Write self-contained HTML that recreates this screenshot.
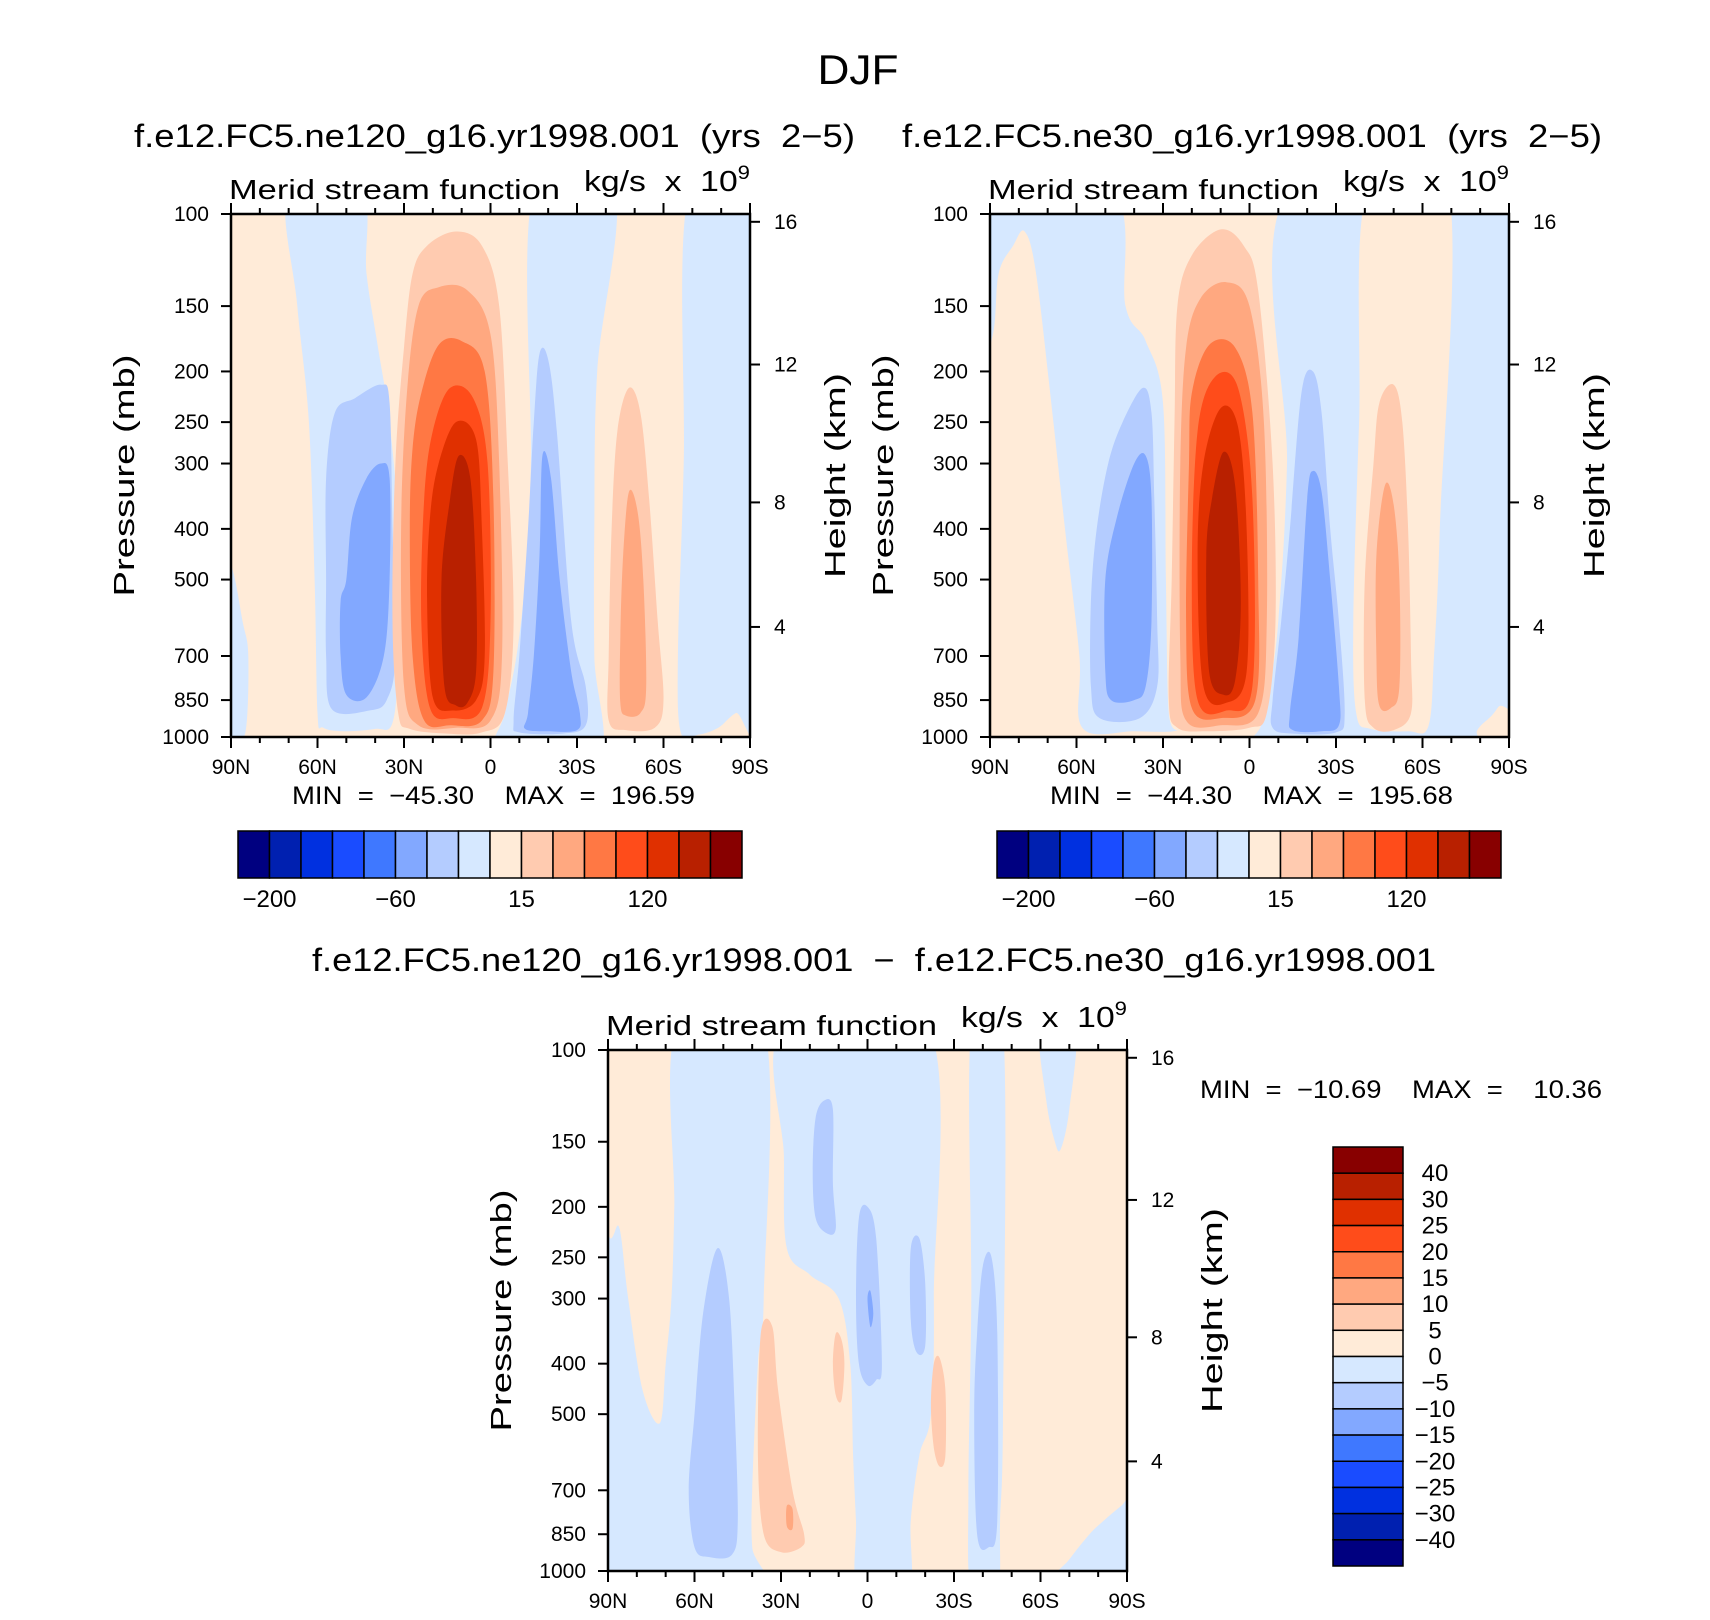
<!DOCTYPE html>
<html><head><meta charset="utf-8">
<style>
html,body{margin:0;padding:0;background:#fff;}
svg{display:block;font-family:"Liberation Sans",sans-serif;}
text{white-space:pre;}
</style></head>
<body>
<svg id="fig" width="1710" height="1620" viewBox="0 0 1710 1620" xmlns="http://www.w3.org/2000/svg">
<rect x="0" y="0" width="1710" height="1620" fill="#fff"/>
<text x="858" y="84" font-size="42" text-anchor="middle" fill="#000" textLength="81" lengthAdjust="spacingAndGlyphs">DJF</text>
</svg>
<script>
// ---------- data ----------
const palette = ['#000080','#0020b0','#0030e0','#1a4cff','#3f78ff','#82a8ff','#b4ccff','#d6e8ff','#ffebd8','#ffcbb0','#ffa880','#ff7844','#ff4c1a','#e03000','#b82000','#880000'];
const pressureTicks = [100,150,200,250,300,400,500,700,850,1000];
const heightTicks = [4,8,12,16];
const heightTickPressure = [616,356,194,103.5];
const latTicks = [90,60,30,0,-30,-60,-90];
const latTickLabels = ['90N','60N','30N','0','30S','60S','90S'];
const latMinorTicks = [80,70,50,40,20,10,-10,-20,-40,-50,-70,-80];
const cbarLabelsTop = ['-200','-60','15','120'];
const cbarLabelIdxTop = [1,5,9,13];
const cbarLabelsDiff = ['40','30','25','20','15','10','5','0','-5','-10','-15','-20','-25','-30','-40'];

// panel 1 (ne120) contour regions: level index + polygon of [lat, pressure]
const p1Levels = [7,7,7,7,6,5,6,5,9,10,11,12,13,14,9,10];
const p1Shapes = [
 [[90,470],[86,600],[84,700],[85,980],[90,1000],[95,1000],[95,470]],
 [[70,90],[67,150],[63,250],[61,500],[60,900],[58,960],[50,975],[40,965],[34,940],[32,700],[32,400],[35,250],[39,180],[43,130],[45,90]],
 [[-15,90],[-14,300],[-12,500],[-9,700],[-5,900],[-2,1100],[-37,1100],[-36,700],[-36,400],[-37,200],[-43,90]],
 [[-69,90],[-67,300],[-65,700],[-66,980],[-72,990],[-79,960],[-85,900],[-95,850],[-95,90]],
 [[57,320],[54,240],[47,225],[38,212],[35,230],[34,400],[33,700],[36,850],[42,890],[55,885],[57,700],[57,500]],
 [[50,500],[48,380],[43,320],[38,300],[35,320],[35,500],[37,700],[43,840],[50,830],[52,700],[52,550]],
 [[-17,185],[-20,190],[-23,260],[-28,600],[-33,800],[-33,950],[-25,985],[-10,980],[-8,930],[-10,700],[-13,400],[-15,250]],
 [[-18,290],[-21,320],[-24,500],[-28,750],[-31,900],[-30,970],[-20,975],[-12,965],[-13,900],[-15,700],[-17,450]],
 [[27,130],[22,115],[12,108],[3,115],[-3,150],[-6,300],[-8,600],[-5,900],[3,980],[15,985],[28,965],[32,900],[34,600],[33,300],[30,180]],
 [[25,150],[18,138],[8,140],[0,170],[-3,300],[-4,700],[0,930],[12,960],[25,950],[30,800],[31,400],[29,220]],
 [[24,220],[18,178],[10,175],[2,200],[-1,350],[-1,750],[3,930],[14,950],[23,930],[27,700],[28,400],[27,280]],
 [[20,260],[14,215],[6,225],[1,300],[0,600],[3,880],[13,920],[21,880],[24,600],[23,350]],
 [[18,300],[12,250],[5,270],[3,400],[2,700],[5,850],[13,890],[20,840],[22,550],[21,380]],
 [[14,350],[11,290],[7,320],[5,500],[5,750],[8,860],[12,870],[16,800],[17,500]],
 [[-42,400],[-44,260],[-48,215],[-52,240],[-55,350],[-58,600],[-60,850],[-57,960],[-47,970],[-41,930],[-41,700]],
 [[-46,450],[-48,340],[-51,370],[-53,500],[-54,800],[-52,900],[-47,910],[-45,860],[-45,650]]
];

// panel 2 (ne30)
const p2Levels = [7,7,8,6,5,6,5,9,10,11,12,13,14,9,10];
const p2Shapes = [
 [[95,90],[48,90],[43,150],[36,175],[30,230],[29,500],[28,900],[25,970],[40,975],[58,960],[59,700],[64,400],[68,250],[74,130],[78,108],[82,115],[87,130],[89,170],[95,200]],
 [[-14,90],[-13,300],[-10,600],[-7,800],[-4,950],[-3,1100],[-75,1100],[-79,970],[-86,880],[-95,700],[-95,90]],
 [[-41,90],[-38,250],[-36,600],[-37,900],[-42,965],[-55,975],[-62,955],[-64,700],[-66,400],[-69,90]],
 [[53,400],[49,300],[44,250],[37,215],[34,240],[33,350],[32,600],[32,800],[38,920],[52,920],[55,800],[55,550]],
 [[50,500],[46,380],[40,300],[36,290],[34,350],[34,600],[36,800],[40,850],[48,850],[50,750]],
 [[-18,220],[-22,200],[-25,240],[-28,400],[-31,600],[-33,900],[-30,980],[-15,985],[-8,960],[-8,850],[-11,600],[-14,400]],
 [[-20,350],[-22,310],[-25,340],[-28,500],[-31,800],[-31,950],[-25,975],[-15,970],[-14,900],[-17,650]],
 [[25,150],[20,120],[10,107],[2,115],[-3,140],[-8,300],[-9,600],[-6,900],[0,960],[15,975],[25,960],[28,850],[27,500],[26,250]],
 [[22,180],[17,145],[8,135],[0,150],[-5,250],[-6,600],[-3,900],[10,950],[22,930],[24,700],[24,300]],
 [[20,220],[14,178],[5,180],[-1,240],[-3,500],[-2,850],[10,920],[20,880],[22,600],[21,300]],
 [[18,260],[12,205],[4,215],[-1,350],[-1,800],[8,890],[18,850],[20,500]],
 [[16,300],[10,235],[4,255],[1,400],[1,750],[8,860],[16,800],[18,450]],
 [[13,350],[9,285],[5,330],[3,550],[5,780],[9,830],[14,750],[15,450]],
 [[-43,300],[-45,230],[-50,212],[-53,250],[-55,400],[-56,700],[-56,900],[-50,970],[-43,960],[-40,850],[-40,500]],
 [[-44,450],[-47,330],[-50,360],[-52,500],[-52,800],[-49,880],[-45,870],[-44,700]]
];

// panel 3 (difference)
const p3Levels = [7,7,7,7,7,6,6,6,5,6,6,9,9,9,10];
const p3Shapes = [
 [[66,90],[36,90],[36,300],[38,400],[40,700],[40,900],[38,1100],[95,1100],[95,230],[89,230],[86,220],[83,300],[78,450],[72,520],[70,400],[68,300],[67,200]],
 [[29,90],[-21,90],[-23,300],[-22,500],[-18,600],[-15,800],[-14,1100],[3,1100],[4,800],[5,600],[6,400],[10,300],[20,270],[28,240],[29,160]],
 [[-36,90],[-47,90],[-47,500],[-46,800],[-45,1100],[-36,1100],[-35,700],[-36,300]],
 [[-62,1100],[-70,950],[-77,850],[-82,800],[-88,750],[-95,700],[-95,1100]],
 [[-60,90],[-72,90],[-70,130],[-67,155],[-65,150],[-62,125]],
 [[52,240],[48,300],[46,500],[45,800],[47,930],[55,940],[60,900],[62,700],[60,500],[57,320]],
 [[18,135],[15,125],[12,130],[12,180],[11,220],[14,225],[18,210],[19,170]],
 [[3,210],[0,200],[-3,230],[-5,400],[-3,430],[0,440],[3,400],[4,300]],
 [[0,300],[-1,290],[-2,320],[-1,340]],
 [[-15,240],[-18,230],[-20,280],[-20,370],[-17,380],[-15,330]],
 [[-40,260],[-43,250],[-45,350],[-45,800],[-42,900],[-38,850],[-37,500],[-38,350]],
 [[37,350],[33,340],[31,450],[26,700],[22,850],[23,900],[30,920],[36,850],[38,600]],
 [[11,350],[9,360],[8,400],[9,470],[11,460],[12,400]],
 [[-23,400],[-25,390],[-27,450],[-27,600],[-25,630],[-23,580],[-22,480]],
 [[28,750],[26,760],[26,830],[28,820]]
];

// ---------- drawing ----------
const NS='http://www.w3.org/2000/svg';
const svg=document.getElementById('fig');
function mk(tag,attrs,parent){const e=document.createElementNS(NS,tag);for(const k in attrs)e.setAttribute(k,attrs[k]);(parent||svg).appendChild(e);return e;}
function txt(s,attrs,parent){const e=mk('text',attrs,parent);e.textContent=s;return e;}
function fit(e,len){e.setAttribute('textLength',len);e.setAttribute('lengthAdjust','spacingAndGlyphs');}

function makeAxes(P){
  P.xs=lat=>P.x0+(90-lat)/180*P.w;
  P.ys=p=>P.y0+P.h*(1-Math.log10(1000/p));
}
function smoothPath(pts){
  const n=pts.length;let d='M'+pts[0][0].toFixed(1)+','+pts[0][1].toFixed(1);
  for(let i=0;i<n;i++){
    const p0=pts[(i-1+n)%n],p1=pts[i],p2=pts[(i+1)%n],p3=pts[(i+2)%n];
    const c1=[p1[0]+(p2[0]-p0[0])/6,p1[1]+(p2[1]-p0[1])/6];
    const c2=[p2[0]-(p3[0]-p1[0])/6,p2[1]-(p3[1]-p1[1])/6];
    d+='C'+c1[0].toFixed(1)+','+c1[1].toFixed(1)+' '+c2[0].toFixed(1)+','+c2[1].toFixed(1)+' '+p2[0].toFixed(1)+','+p2[1].toFixed(1);
  }
  return d+'Z';
}
function panel(P,levels,shapes,id){
  makeAxes(P);
  const g=mk('g',{});
  
  
  const cp=mk('clipPath',{id:id+'clip'},g);
  mk('rect',{x:P.x0,y:P.y0,width:P.w,height:P.h},cp);
  const bg=mk('rect',{x:P.x0,y:P.y0,width:P.w,height:P.h,fill:palette[8]},g);
  
  
  const cg=mk('g',{'clip-path':'url(#'+id+'clip)'},g);
  shapes.forEach((s,i)=>{
    const pts=s.map(q=>[P.xs(q[0]),P.ys(q[1])]);
    const path=mk('path',{d:smoothPath(pts),fill:palette[levels[i]]},cg);
    
    
  });
  mk('rect',{x:P.x0,y:P.y0,width:P.w,height:P.h,fill:'none',stroke:'#000','stroke-width':2.5},g);
  pressureTicks.forEach(p=>{
    const y=P.ys(p);
    mk('line',{x1:P.x0-10,x2:P.x0,y1:y,y2:y,stroke:'#000','stroke-width':2},g);
    const t=txt(String(p),{x:P.x0-22,y:y+7,'font-size':21,'text-anchor':'end'},g);
    
    
  });
  heightTicks.forEach((h,i)=>{
    const y=P.ys(heightTickPressure[i]);
    mk('line',{x1:P.x0+P.w,x2:P.x0+P.w+10,y1:y,y2:y,stroke:'#000','stroke-width':2},g);
    const t=txt(String(h),{x:P.x0+P.w+24,y:y+7,'font-size':21},g);
    
    
  });
  latTicks.forEach((l,i)=>{
    const x=P.xs(l);
    mk('line',{x1:x,x2:x,y1:P.y0+P.h,y2:P.y0+P.h+11,stroke:'#000','stroke-width':2},g);
    mk('line',{x1:x,x2:x,y1:P.y0,y2:P.y0-11,stroke:'#000','stroke-width':2},g);
    const t=txt(latTickLabels[i],{x:x,y:P.y0+P.h+37,'font-size':21,'text-anchor':'middle'},g);
    
    
  });
  latMinorTicks.forEach(l=>{
    const x=P.xs(l);
    mk('line',{x1:x,x2:x,y1:P.y0+P.h,y2:P.y0+P.h+6,stroke:'#000','stroke-width':2},g);
    mk('line',{x1:x,x2:x,y1:P.y0,y2:P.y0-6,stroke:'#000','stroke-width':2},g);
  });
  const cy=P.y0+P.h/2;
  const yl=txt('Pressure (mb)',{x:0,y:0,'font-size':29,'text-anchor':'middle',transform:'translate('+(P.x0-97)+','+cy+') rotate(-90)'},g);
  fit(yl,242);
  
  
  const hl=txt('Height (km)',{x:0,y:0,'font-size':29,'text-anchor':'middle',transform:'translate('+(P.x0+P.w+95)+','+cy+') rotate(-90)'},g);
  fit(hl,205);
  
  
  const lt=txt('Merid stream function',{x:P.x0-2,y:P.y0-15,'font-size':28},g);
  fit(lt,331);
  
  
  const rt=mk('text',{x:P.x0+P.w-166,y:P.y0-23,'font-size':29},g);
  
  
  rt.innerHTML='kg/s  x  10<tspan dy="-12" font-size="19">9</tspan>';
  fit(rt,166);
}
function hbar(x0,y0,w,h){
  const g=mk('g',{});
  
  
  const bw=w/16;
  palette.forEach((c,i)=>{
    const r=mk('rect',{x:x0+i*bw,y:y0,width:bw,height:h,fill:c,stroke:'#000','stroke-width':1.5},g);
    
    
  });
  cbarLabelsTop.forEach((s,i)=>{
    const t=txt(s.replace('-','\u2212'),{x:x0+cbarLabelIdxTop[i]*bw,y:y0+h+29,'font-size':24,'text-anchor':'middle'},g);
    
    
  });
}

const P1={x0:231,y0:214,w:519,h:523};
const P2={x0:990,y0:214,w:519,h:523};
const P3={x0:608,y0:1050,w:519,h:521};
panel(P1,p1Levels,p1Shapes,'ne120');
panel(P2,p2Levels,p2Shapes,'ne30');
panel(P3,p3Levels,p3Shapes,'diff');

let t;
t=txt('f.e12.FC5.ne120_g16.yr1998.001  (yrs  2\u22125)',{x:134,y:147,'font-size':32});
fit(t,721);


t=txt('f.e12.FC5.ne30_g16.yr1998.001  (yrs  2\u22125)',{x:902,y:147,'font-size':32});
fit(t,700);


t=txt('MIN  =  \u221245.30    MAX  =  196.59',{x:292,y:804,'font-size':25});
fit(t,403);


t=txt('MIN  =  \u221244.30    MAX  =  195.68',{x:1050,y:804,'font-size':25});
fit(t,403);


hbar(238,831,504,47);
hbar(997,831,504,47);
t=txt('f.e12.FC5.ne120_g16.yr1998.001  \u2212  f.e12.FC5.ne30_g16.yr1998.001',{x:312,y:971,'font-size':32});
fit(t,1124);


t=txt('MIN  =  \u221210.69    MAX  =    10.36',{x:1200,y:1098,'font-size':25});
fit(t,402);


(function(){
  const x0=1333,y0=1147,w=70,h=419,bh=h/16;
  const g=mk('g',{});
  
  
  palette.slice().reverse().forEach((c,i)=>{
    const r=mk('rect',{x:x0,y:y0+i*bh,width:w,height:bh,fill:c,stroke:'#000','stroke-width':1.5},g);
    
    
  });
  cbarLabelsDiff.forEach((s,i)=>{
    const tt=txt(s.replace('-','\u2212'),{x:1435,y:y0+(i+1)*bh+8,'font-size':24,'text-anchor':'middle'},g);
    
    
  });
})();
</script>
</body></html>
